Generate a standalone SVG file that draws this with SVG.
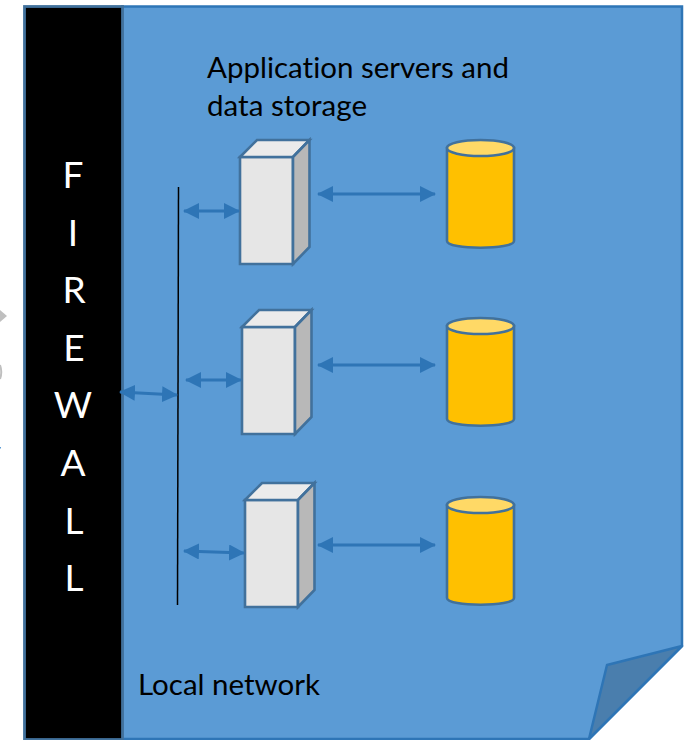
<svg xmlns="http://www.w3.org/2000/svg" width="692" height="740" viewBox="0 0 692 740">
<style>
.fw{font:37px Lato,"Open Sans","Liberation Sans",sans-serif;fill:#fff;text-anchor:middle}
.lb{font:29px Lato,"Open Sans","Liberation Sans",sans-serif;fill:#000;font-variant-ligatures:none}
.box{stroke:#41719c;stroke-width:2.600;stroke-linejoin:miter}
.link{stroke:#2e75b6;stroke-width:3;fill:none;marker-start:url(#a);marker-end:url(#a)}
</style>
<defs>
<marker id="a" viewBox="0 0 16 16" refX="15" refY="8" markerUnits="userSpaceOnUse" markerWidth="16" markerHeight="16" orient="auto-start-reverse"><path d="M0 0L16 8L0 16Z" fill="#2e75b6"/></marker>
<g id="srv"><path class="box" fill="#e6e6e6" d="M0 17H53V124H0Z"/><path class="box" fill="#ebebeb" d="M0 17L17 0H69.500L53 17Z"/><path class="box" fill="#b8b8b8" d="M53 17L69.500 0V107L53 124Z"/></g>
<g id="db"><path class="box" fill="#ffc000" d="M0 8V101C0 110 67 110 67 101V8Z"/><ellipse class="box" fill="#ffd966" cx="33.500" cy="8" rx="33.500" ry="8"/></g>
</defs>
<g id="sheet"><path d="M122 6.500H682V646L589 739H122Z" fill="#5b9bd5" stroke="#2e75b6" stroke-width="2.500"/><path d="M682 646L607 665L589 739Z" fill="#4a7ead" stroke="#2e75b6" stroke-width="2.500" stroke-linejoin="round"/></g>
<g id="firewall"><rect x="24.500" y="6.500" width="98" height="733" fill="#000" stroke="#41719c" stroke-width="2.800"/>
<text class="fw" x="73" y="188">F</text><text class="fw" x="73" y="246">I</text><text class="fw" x="74" y="303">R</text><text class="fw" x="74" y="361">E</text><text class="fw" x="73" y="418">W</text><text class="fw" x="73" y="476">A</text><text class="fw" x="74" y="534">L</text><text class="fw" x="74" y="591">L</text></g>
<g id="title"><text class="lb" x="207" y="78" textLength="302" lengthAdjust="spacingAndGlyphs">Application servers and</text><text class="lb" x="207" y="116" textLength="160" lengthAdjust="spacingAndGlyphs">data storage</text></g>
<text id="local" class="lb" x="138" y="695" textLength="182" lengthAdjust="spacingAndGlyphs">Local network</text>
<g id="server1"><use href="#srv" x="240" y="140"/></g>
<g id="server2"><use href="#srv" x="242" y="310"/></g>
<g id="server3"><use href="#srv" x="245" y="483"/></g>
<g id="db1"><use href="#db" x="447" y="140"/></g>
<g id="db2"><use href="#db" x="447" y="318"/></g>
<g id="db3"><use href="#db" x="447" y="497"/></g>
<g id="connectors">
<path d="M178.500 187L177.500 605" stroke="#000" stroke-width="1.500" fill="none"/>
<path class="link" d="M120 392L177 395"/>
<path class="link" d="M184 211H239"/><path class="link" d="M186 380H241"/><path class="link" d="M184 551L244 553"/>
<path class="link" d="M318 194H435"/><path class="link" d="M318 365H435"/><path class="link" d="M318 545H435"/>
</g>
<path id="edge" d="M0 310L7 316L0 322Z" fill="#bfbfbf"/>
<path id="edge2" d="M0 365Q2.500 372 0 379" fill="none" stroke="#bfbfbf" stroke-width="2"/>
<rect id="edge3" x="0" y="447" width="1" height="1.500" fill="#5b9bd5"/>
</svg>
